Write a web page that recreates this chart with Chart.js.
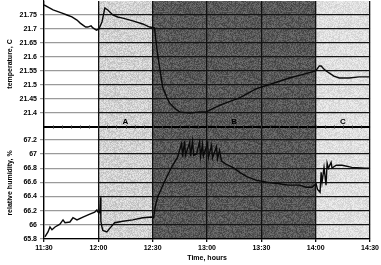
<!DOCTYPE html>
<html>
<head>
<meta charset="utf-8">
<script src="https://cdn.jsdelivr.net/npm/chart.js@4.4.0/dist/chart.umd.min.js"></script>
<style>
  html, body { margin: 0; padding: 0; background: #fff; }
  #wrap { width: 381px; height: 265px; }
</style>
</head>
<body>
<div id="wrap"><canvas id="chart" width="381" height="265"></canvas></div>
<script>
// time is in minutes after 11:30
const timeTicks = [0, 30, 60, 90, 120, 150, 180];
const timeLabels = ['11:30', '12:00', '12:30', '13:00', '13:30', '14:00', '14:30'];
const tempTicks = [21.4, 21.45, 21.5, 21.55, 21.6, 21.65, 21.7, 21.75];
const humTicks = [65.8, 66, 66.2, 66.4, 66.6, 66.8, 67, 67.2];

const phases = ['A', 'B', 'C'];
const phaseStart = [30, 60, 150];
const phaseEnd = [60, 150, 180];

const tempTime = [0, 5, 10, 12.7, 15.4, 18.2, 20, 21.5, 23, 24.2,
    26, 27, 29, 30.3, 32, 33.6, 35.2, 38, 40.7, 43.5,
    49, 54.5, 58.3, 61, 62.5, 63.8, 65.5, 67.7, 69.3, 72,
    74.8, 80.4, 85.9, 89.7, 94, 98.5, 108, 117, 127, 135.4,
    143.6, 150, 152, 153, 155, 157.4, 160, 163, 168.4, 174,
    180];
const tempValues = [21.786, 21.768, 21.757, 21.75, 21.743, 21.732, 21.721, 21.714, 21.707, 21.707,
    21.711, 21.704, 21.696, 21.70, 21.725, 21.775, 21.768, 21.75, 21.743, 21.739,
    21.729, 21.718, 21.707, 21.704, 21.62, 21.564, 21.493, 21.457, 21.436, 21.418,
    21.404, 21.40, 21.404, 21.404, 21.418, 21.432, 21.454, 21.486, 21.507, 21.525,
    21.539, 21.55, 21.568, 21.568, 21.554, 21.543, 21.532, 21.525, 21.525, 21.529,
    21.529];

const humTime = [0.5, 2.2, 3.3, 4.4, 6.1, 8.8, 10.5, 11.6, 14.3, 16,
    18.2, 21.5, 25.3, 28, 29.2, 29.7, 30.8, 31.2, 31.4, 31.9,
    32.5, 34.7, 36.3, 39, 43.5, 49, 54.5, 59.4, 60.5, 61.6,
    62.7, 65.5, 68.2, 71, 73.7, 76, 76.5, 77.6, 78.1, 80.4,
    80.9, 82, 82.6, 84.2, 85.9, 86.4, 87.5, 88, 90.3, 90.8,
    92.5, 93, 95.2, 95.8, 96.9, 98, 100.2, 105, 108, 112,
    117, 123, 130, 135, 141, 144.7, 148, 150.2, 151, 152.4,
    153, 153.5, 154.6, 155.7, 156.3, 157, 158.5, 159, 161.3, 164.6,
    170, 177.8, 180];
const humValues = [65.83, 65.90, 65.97, 65.93, 65.97, 66.01, 66.07, 66.03, 66.04, 66.10,
    66.07, 66.11, 66.15, 66.18, 66.21, 66.18, 66.17, 66.39, 66.05, 65.98,
    65.92, 65.90, 65.95, 66.03, 66.05, 66.07, 66.10, 66.11, 66.10, 66.28,
    66.39, 66.55, 66.70, 66.84, 66.95, 67.15, 66.96, 67.18, 66.98, 67.16,
    66.97, 67.18, 66.98, 67.00, 67.17, 66.96, 67.14, 66.97, 67.15, 66.95,
    67.12, 66.94, 67.10, 66.93, 67.05, 66.90, 66.86, 66.80, 66.74, 66.68,
    66.63, 66.60, 66.58, 66.56, 66.56, 66.53, 66.53, 66.58, 66.50, 66.46,
    66.74, 66.60, 66.81, 66.56, 66.87, 66.80, 66.88, 66.80, 66.84, 66.84,
    66.81, 66.80, 66.80];

const FONT = 'Liberation Sans, Arial, sans-serif';
const smallFont = { family: FONT, size: 7, weight: 'bold' };

// grainy grey fill like the scanned original (fixed hash, not random)
function grain(ctx, base, amp) {
    const c = document.createElement('canvas');
    c.width = c.height = 64;
    const g = c.getContext('2d');
    const img = g.createImageData(64, 64);
    for (let i = 0; i < 64 * 64; i++) {
        let h = Math.imul(i ^ 0x9e3779b9, 0x85ebca6b);
        h ^= h >>> 13;
        h = Math.imul(h, 0xc2b2ae35);
        h ^= h >>> 16;
        const v = base + ((h >>> 0) % (2 * amp + 1)) - amp;
        img.data[i * 4] = img.data[i * 4 + 1] = img.data[i * 4 + 2] = v;
        img.data[i * 4 + 3] = 255;
    }
    g.putImageData(img, 0, 0);
    return ctx.createPattern(c, 'repeat');
}

// horizontal grid: grey over the white part, nearly black over the shaded parts
function rowGridColor(c) {
    const chart = c.chart;
    const area = chart.chartArea;
    if (!area || !chart.scales.x) return '#222';
    const g = chart.ctx.createLinearGradient(area.left, 0, area.right, 0);
    const p = (chart.scales.x.getPixelForValue(phaseStart[0]) - area.left) / (area.right - area.left);
    g.addColorStop(0, '#9a9a9a');
    g.addColorStop(p - 0.003, '#9a9a9a');
    g.addColorStop(p, '#151515');
    g.addColorStop(1, '#151515');
    return g;
}

// y axes: fixed width, and no extra room reserved for half tick labels
function fitY(axis) {
    axis.width = 44;
    axis.paddingTop = 0;
    axis.paddingBottom = 0;
}

let shadeFills = null;

const phasePlugin = {
    id: 'phases',
    beforeDraw(chart) {
        const { ctx, chartArea, scales } = chart;
        if (!shadeFills) {
            shadeFills = [grain(ctx, 210, 22), grain(ctx, 88, 24), grain(ctx, 224, 16)];
        }
        ctx.save();
        phases.forEach((p, i) => {
            const x0 = scales.x.getPixelForValue(phaseStart[i]);
            const x1 = scales.x.getPixelForValue(phaseEnd[i]);
            ctx.fillStyle = shadeFills[i];
            ctx.fillRect(x0, chartArea.top, x1 - x0, chartArea.bottom - chartArea.top);
        });
        ctx.restore();
    },
    afterDraw(chart) {
        const { ctx, chartArea, scales } = chart;
        const ySep = scales.yH.top;
        ctx.save();
        ctx.strokeStyle = '#000';
        ctx.lineWidth = 2;
        ctx.beginPath();
        ctx.moveTo(chartArea.left, ySep);
        ctx.lineTo(chartArea.right, ySep);
        ctx.stroke();
        ctx.lineWidth = 1;
        ctx.strokeStyle = '#333';
        for (let t = 5; t < 180; t += 5) {
            const x = Math.round(scales.x.getPixelForValue(t)) + 0.5;
            ctx.beginPath();
            ctx.moveTo(x, ySep - 1.5);
            ctx.lineTo(x, ySep + 1.5);
            ctx.stroke();
        }
        ctx.fillStyle = '#000';
        ctx.font = 'bold 8px ' + FONT;
        ctx.textAlign = 'center';
        ctx.textBaseline = 'middle';
        const yLab = scales.yT.getPixelForValue(21.37);
        phases.forEach((p, i) => {
            ctx.fillText(p, scales.x.getPixelForValue((phaseStart[i] + phaseEnd[i]) / 2), yLab);
        });
        ctx.restore();
    }
};

const ctx = document.getElementById('chart').getContext('2d');

new Chart(ctx, {
    type: 'line',
    data: {
        datasets: [
            {
                label: 'relative humidity',
                data: humTime.map((t, i) => ({ x: t, y: humValues[i] })),
                yAxisID: 'yH',
                borderColor: '#0a0a0a',
                borderWidth: 1.4,
                pointRadius: 0,
                tension: 0
            },
            {
                label: 'temperature',
                data: tempTime.map((t, i) => ({ x: t, y: tempValues[i] })),
                yAxisID: 'yT',
                borderColor: '#0a0a0a',
                borderWidth: 1.4,
                pointRadius: 0,
                tension: 0
            }
        ]
    },
    options: {
        responsive: false,
        animation: false,
        layout: { padding: { top: 1, right: 10, left: 0, bottom: 0 } },
        plugins: {
            legend: { display: false },
            tooltip: { enabled: false }
        },
        scales: {
            x: {
                type: 'linear',
                min: 0,
                max: 180,
                afterBuildTicks: axis => { axis.ticks = timeTicks.map(v => ({ value: v })); },
                afterFit: axis => { axis.height = 26; },
                ticks: {
                    callback: (v, i) => timeLabels[i],
                    font: smallFont,
                    color: '#000',
                    padding: 2,
                    maxRotation: 0,
                    autoSkip: false
                },
                grid: { color: '#111', lineWidth: 1.3, tickLength: 3 },
                border: { color: '#000', width: 1.2 },
                title: {
                    display: true,
                    text: 'Time, hours',
                    font: smallFont,
                    color: '#000',
                    padding: { top: 0, bottom: 3 }
                }
            },
            yH: {
                position: 'left',
                stack: 'panels',
                stackWeight: 1,
                min: 65.8,
                max: 67.38,
                afterBuildTicks: axis => { axis.ticks = humTicks.map(v => ({ value: v })); },
                afterFit: fitY,
                ticks: {
                    callback: v => String(+v.toFixed(1)),
                    font: smallFont,
                    color: '#000',
                    padding: 3,
                    autoSkip: false
                },
                grid: { color: rowGridColor, lineWidth: 1.2, tickLength: 4 },
                border: { color: '#000', width: 1.2 },
                title: {
                    display: true,
                    text: 'relative humidity, %',
                    font: smallFont,
                    color: '#000',
                    padding: { top: 6, bottom: 0 }
                }
            },
            yT: {
                position: 'left',
                stack: 'panels',
                stackWeight: 1.125,
                min: 21.35,
                max: 21.8,
                afterBuildTicks: axis => { axis.ticks = tempTicks.map(v => ({ value: v })); },
                afterFit: fitY,
                ticks: {
                    callback: v => String(+v.toFixed(2)),
                    font: smallFont,
                    color: '#000',
                    padding: 3,
                    autoSkip: false
                },
                grid: { color: rowGridColor, lineWidth: 1.2, tickLength: 4 },
                border: { color: '#000', width: 1.2 },
                title: {
                    display: true,
                    text: 'temperature, C',
                    font: smallFont,
                    color: '#000',
                    padding: { top: 6, bottom: 0 }
                }
            }
        }
    },
    plugins: [phasePlugin]
});
</script>
</body>
</html>
